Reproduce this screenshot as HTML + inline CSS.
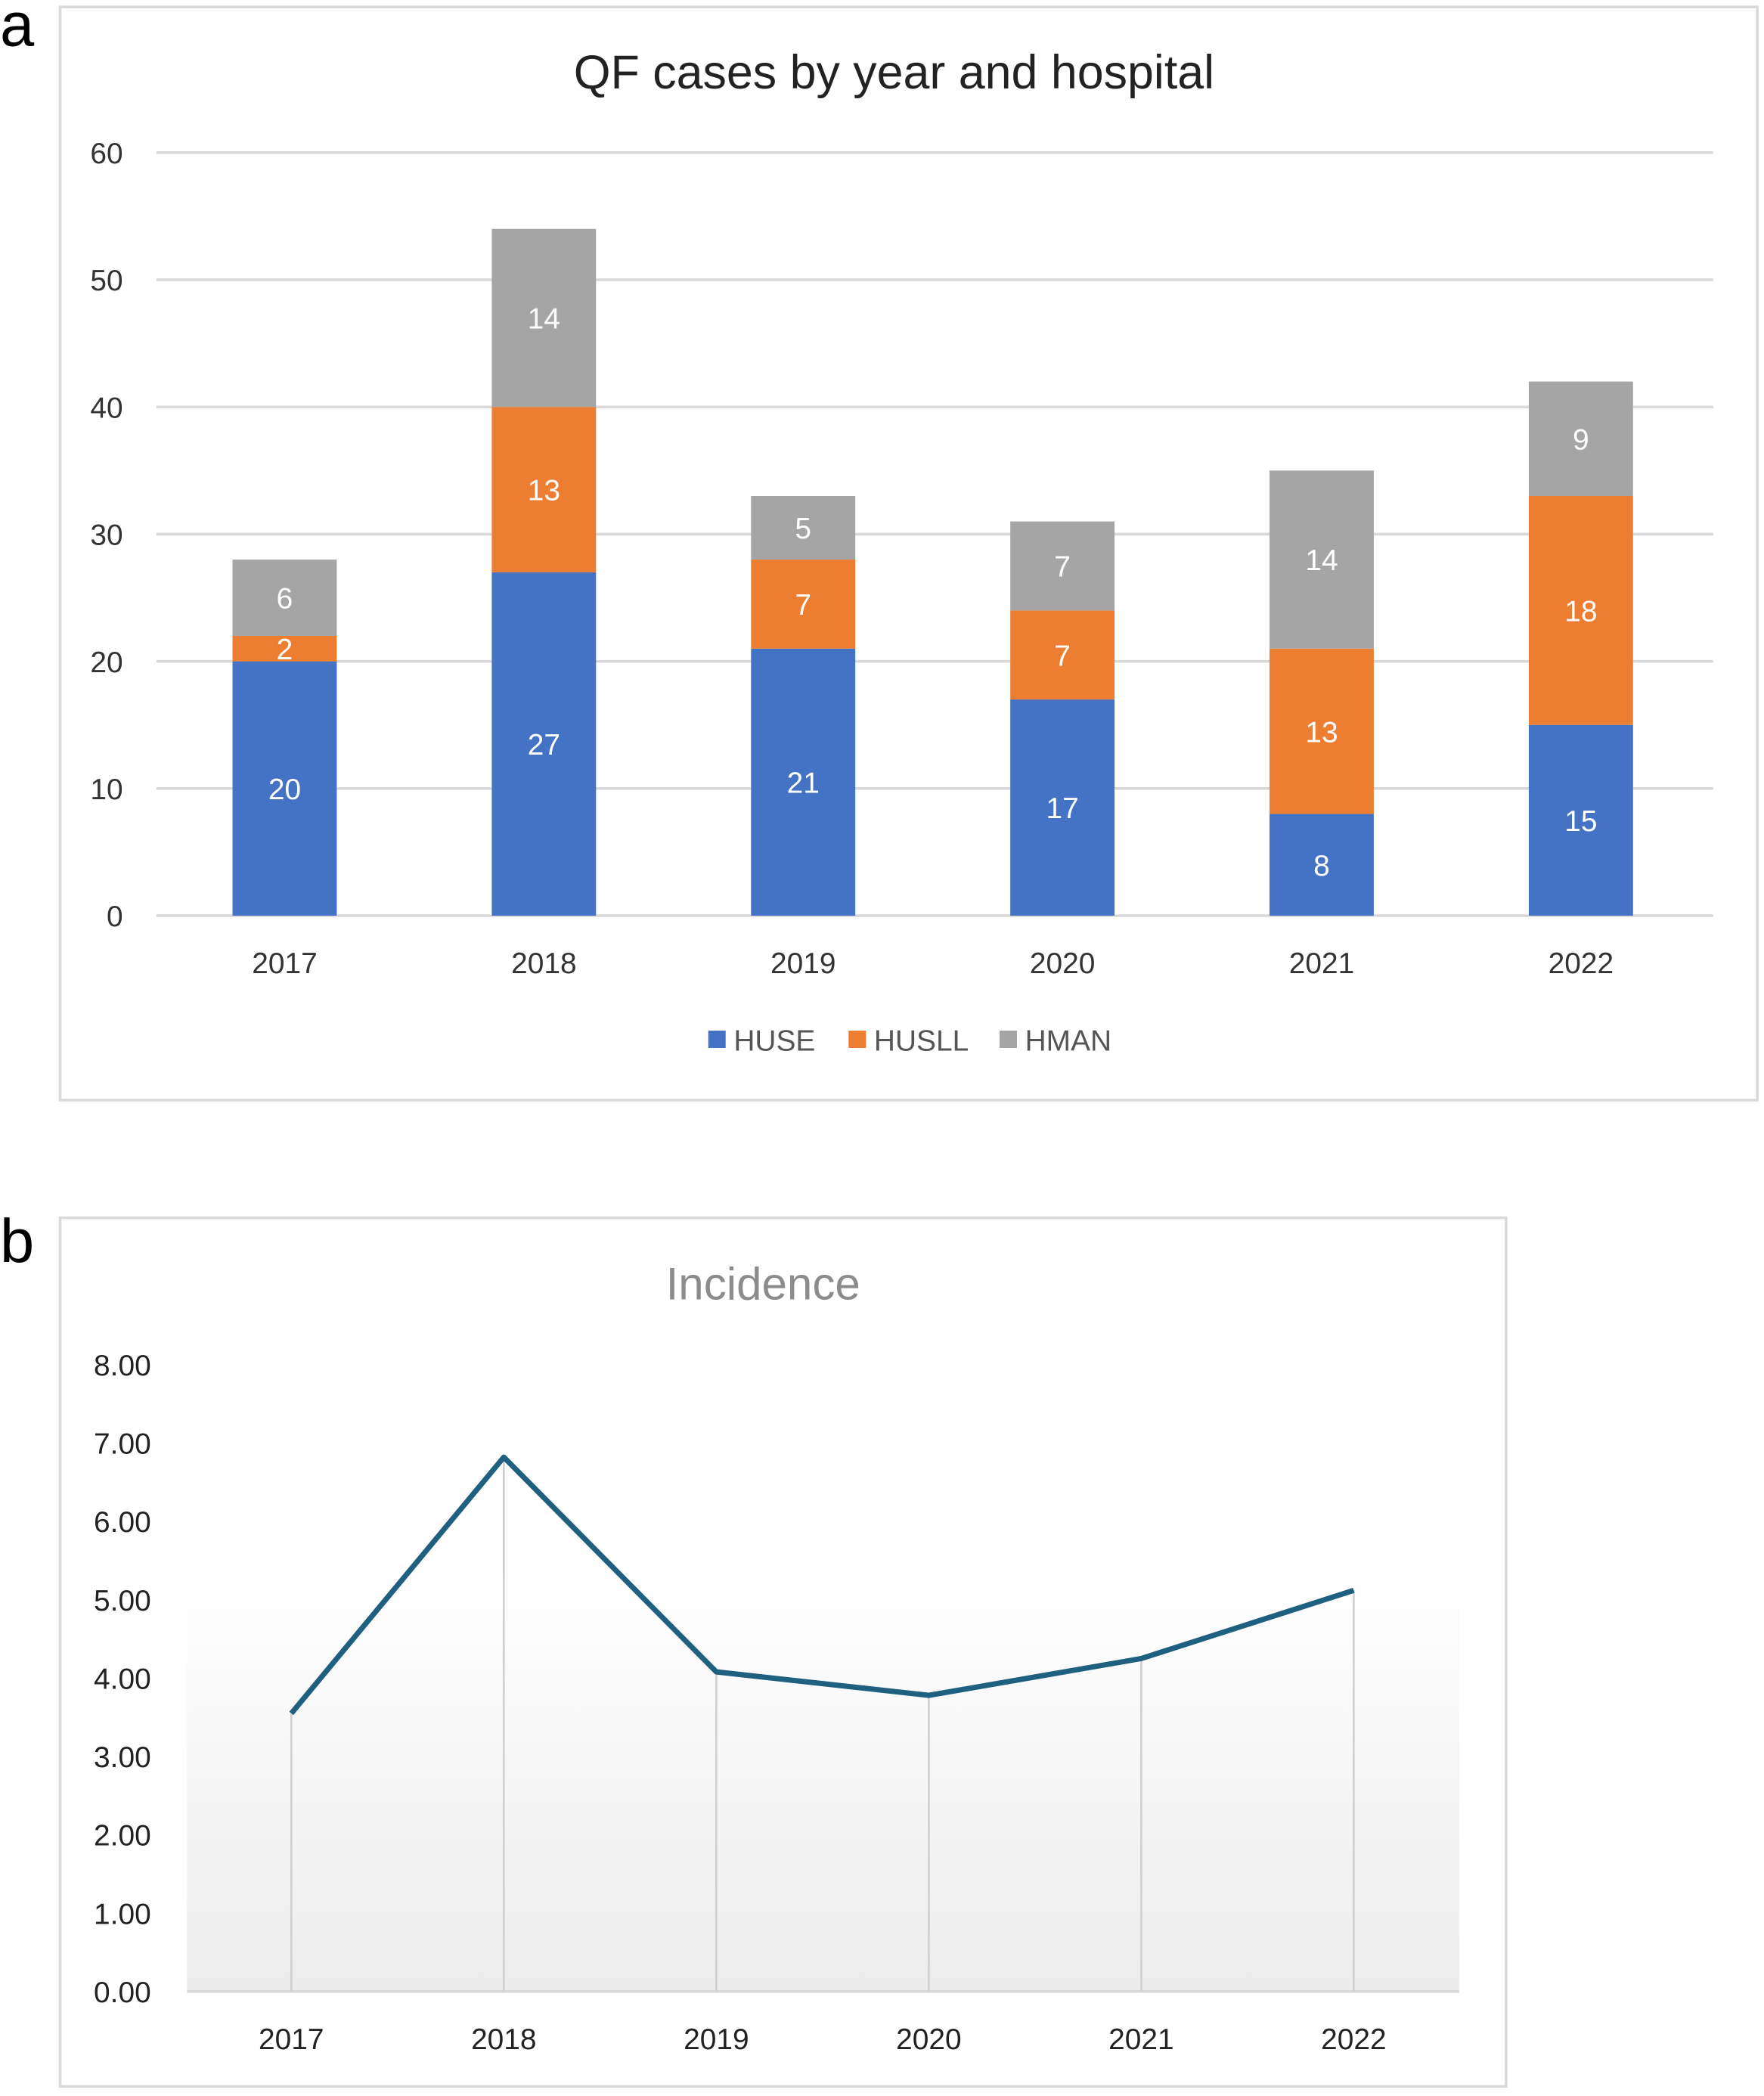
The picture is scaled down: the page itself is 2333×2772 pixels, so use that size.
<!DOCTYPE html>
<html><head><meta charset="utf-8"><style>
html,body{margin:0;padding:0;background:#fff}
svg{display:block;font-family:"Liberation Sans",sans-serif}
</style></head><body>
<svg id="s" width="2333" height="2772" viewBox="0 0 1320 1568">
<defs><linearGradient id="g" x1="0" y1="0" x2="0" y2="1"><stop offset="0" stop-color="#ffffff"/><stop offset="1" stop-color="#ececec"/></linearGradient></defs>
<text x="0" y="34" font-size="46">a</text>
<text x="0" y="944" font-size="46">b</text>
<rect x="45" y="5" width="1270" height="818" fill="#fff" stroke="#d9d9d9" stroke-width="2"/>
<text x="669" y="66" font-size="35.5" text-anchor="middle" fill="#222">QF cases by year and hospital</text>
<g id="a"></g>
<rect x="45" y="911" width="1082" height="650" fill="#fff" stroke="#d9d9d9" stroke-width="2"/>
<rect x="140" y="1175" width="952" height="315" fill="url(#g)"/>
<text x="571" y="972" font-size="34" text-anchor="middle" fill="#8c8c8c">Incidence</text>
<g id="b"></g>
</svg>
<script>
const years=["2017","2018","2019","2020","2021","2022"];
const huse=[20,27,21,17,8,15];
const husll=[2,13,7,7,13,18];
const hman=[6,14,5,7,14,9];
const yTicksA=[0,10,20,30,40,50,60];
const incidence=[3.55,6.82,4.08,3.78,4.25,5.12];
const yTicksB=[0,1,2,3,4,5,6,7,8];
const NS="http://www.w3.org/2000/svg";
function el(p,t,a,txt){const e=document.createElementNS(NS,t);for(const k in a)e.setAttribute(k,a[k]);if(txt!==undefined)e.textContent=txt;p.appendChild(e);return e;}
const A=document.getElementById('a');
const ya=v=>685-v*(571/60);
const xa=i=>213+i*194;
yTicksA.forEach(v=>{
 const l=el(A,'line',{x1:117,x2:1282,y1:ya(v),y2:ya(v),stroke:'#d9d9d9','stroke-width':2});
 
 
 const t=el(A,'text',{x:92,y:ya(v)+8,'font-size':22,'text-anchor':'end',fill:'#333'},String(v));
 
 
});
const series=[[huse,'#4472c4','huse'],[husll,'#ed7d31','husll'],[hman,'#a5a5a5','hman']];
years.forEach((y,i)=>{
 let base=0;
 series.forEach(([arr,c,n])=>{
  const v=arr[i];
  const r=el(A,'rect',{x:xa(i)-39,width:78,y:ya(base+v),height:ya(base)-ya(base+v),fill:c});
  
  
  const t=el(A,'text',{x:xa(i),y:ya(base+v/2)+8,'font-size':22,'text-anchor':'middle',fill:'#fff'},String(v));
  
  
  base+=v;
 });
 const t=el(A,'text',{x:xa(i),y:728,'font-size':22,'text-anchor':'middle',fill:'#333'},y);
 
 
});
[['HUSE','#4472c4',530],['HUSLL','#ed7d31',635],['HMAN','#a5a5a5',748]].forEach(([n,c,x])=>{
 const r=el(A,'rect',{x:x,y:771,width:13,height:13,fill:c});
 
 
 const t=el(A,'text',{x:x+19,y:786,'font-size':22,fill:'#555'},n);
 
 
});
const B=document.getElementById('b');
const yb=v=>1490-v*(469/8);
const xb=i=>218+i*159;
yTicksB.forEach(v=>{
 const t=el(B,'text',{x:113,y:yb(v)+8,'font-size':22,'text-anchor':'end',fill:'#222'},v.toFixed(2));
 
 
});
el(B,'line',{x1:140,x2:1092,y1:1490,y2:1490,stroke:'#d9d9d9','stroke-width':2});
let pts=[];
years.forEach((y,i)=>{
 const l=el(B,'line',{x1:xb(i),x2:xb(i),y1:yb(incidence[i]),y2:1490,stroke:'#d0d0d0','stroke-width':1.5});
 
 
 pts.push(xb(i)+','+yb(incidence[i]));
 const t=el(B,'text',{x:xb(i),y:1533,'font-size':22,'text-anchor':'middle',fill:'#222'},y);
 
 
});
const p=el(B,'polyline',{points:pts.join(' '),fill:'none',stroke:'#1f6080','stroke-width':4,'stroke-linejoin':'round'});


</script>
</body></html>
